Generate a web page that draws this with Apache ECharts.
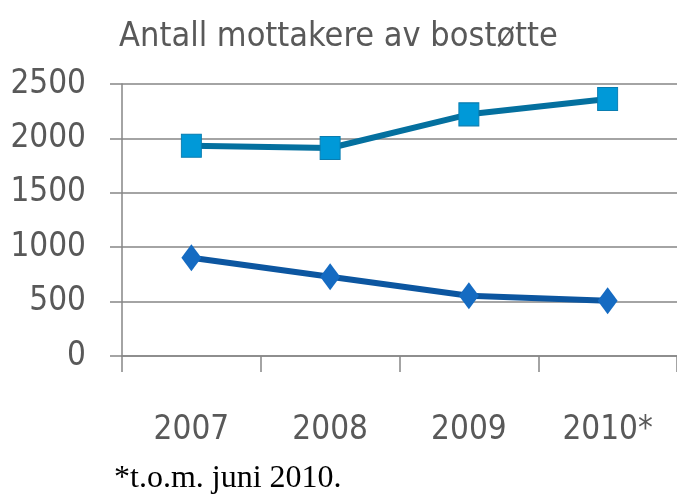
<!DOCTYPE html>
<html><head><meta charset="utf-8">
<script src="https://cdn.jsdelivr.net/npm/echarts@6/dist/echarts.min.js"></script>
<style>html,body{margin:0;padding:0;background:#fff}#c{width:677px;height:504px}</style>
</head><body><div id="c"></div>
<script>
const categories = ['2007', '2008', '2009', '2010*'];
const squareSeries = [1933, 1912, 2221, 2362];
const diamondSeries = [903, 729, 554, 508];
const yTicks = [0, 500, 1000, 1500, 2000, 2500];
const titleText = 'Antall mottakere av bostøtte';
const footnote = '*t.o.m. juni 2010.';

const chart = echarts.init(document.getElementById('c'));
const axisGray = '#868686';
const labelFont = '"DejaVu Sans Condensed", "Liberation Sans Narrow", Lato, sans-serif';
chart.setOption({
  animation: false,
  title: [{
    text: titleText, left: 'center', top: 15,
    textStyle: { fontFamily: labelFont, fontSize: 34, fontWeight: 'normal', color: '#595959' }
  }, {
    text: footnote, left: 109, top: 458,
    textStyle: { fontFamily: 'Liberation Serif', fontSize: 32, fontWeight: 'normal', color: '#000' }
  }],
  grid: { left: 122, right: 0, top: 84, bottom: 148 },
  xAxis: {
    type: 'category', data: categories, boundaryGap: true,
    axisLine: { show: true, lineStyle: { color: axisGray, width: 1.5 } },
    axisTick: { show: true, length: 16, interval: 0, lineStyle: { color: axisGray, width: 1.5 } },
    axisLabel: { margin: 58, fontFamily: labelFont, fontSize: 33, color: '#595959', interval: 0 }
  },
  yAxis: {
    type: 'value', min: yTicks[0], max: yTicks[yTicks.length - 1], interval: 500,
    axisLine: { show: true, lineStyle: { color: axisGray, width: 1.5 } },
    axisTick: { show: true, length: 12, lineStyle: { color: axisGray, width: 1.5 } },
    splitLine: { show: true, lineStyle: { color: axisGray, width: 1.5 } },
    axisLabel: { margin: 36, fontFamily: labelFont, fontSize: 33, color: '#595959', formatter: v => String(v) }
  },
  series: [{
    type: 'line', data: squareSeries, symbol: 'rect', symbolSize: [20, 23],
    lineStyle: { color: '#04709f', width: 6 },
    itemStyle: { color: '#0099d8', borderColor: '#0a7db0', borderWidth: 1 },
    z: 3
  }, {
    type: 'line', data: diamondSeries, symbol: 'diamond', symbolSize: [20, 27],
    lineStyle: { color: '#0c56a0', width: 6 },
    itemStyle: { color: '#156bc2', borderWidth: 0 },
    z: 3
  }]
});
</script></body></html>
